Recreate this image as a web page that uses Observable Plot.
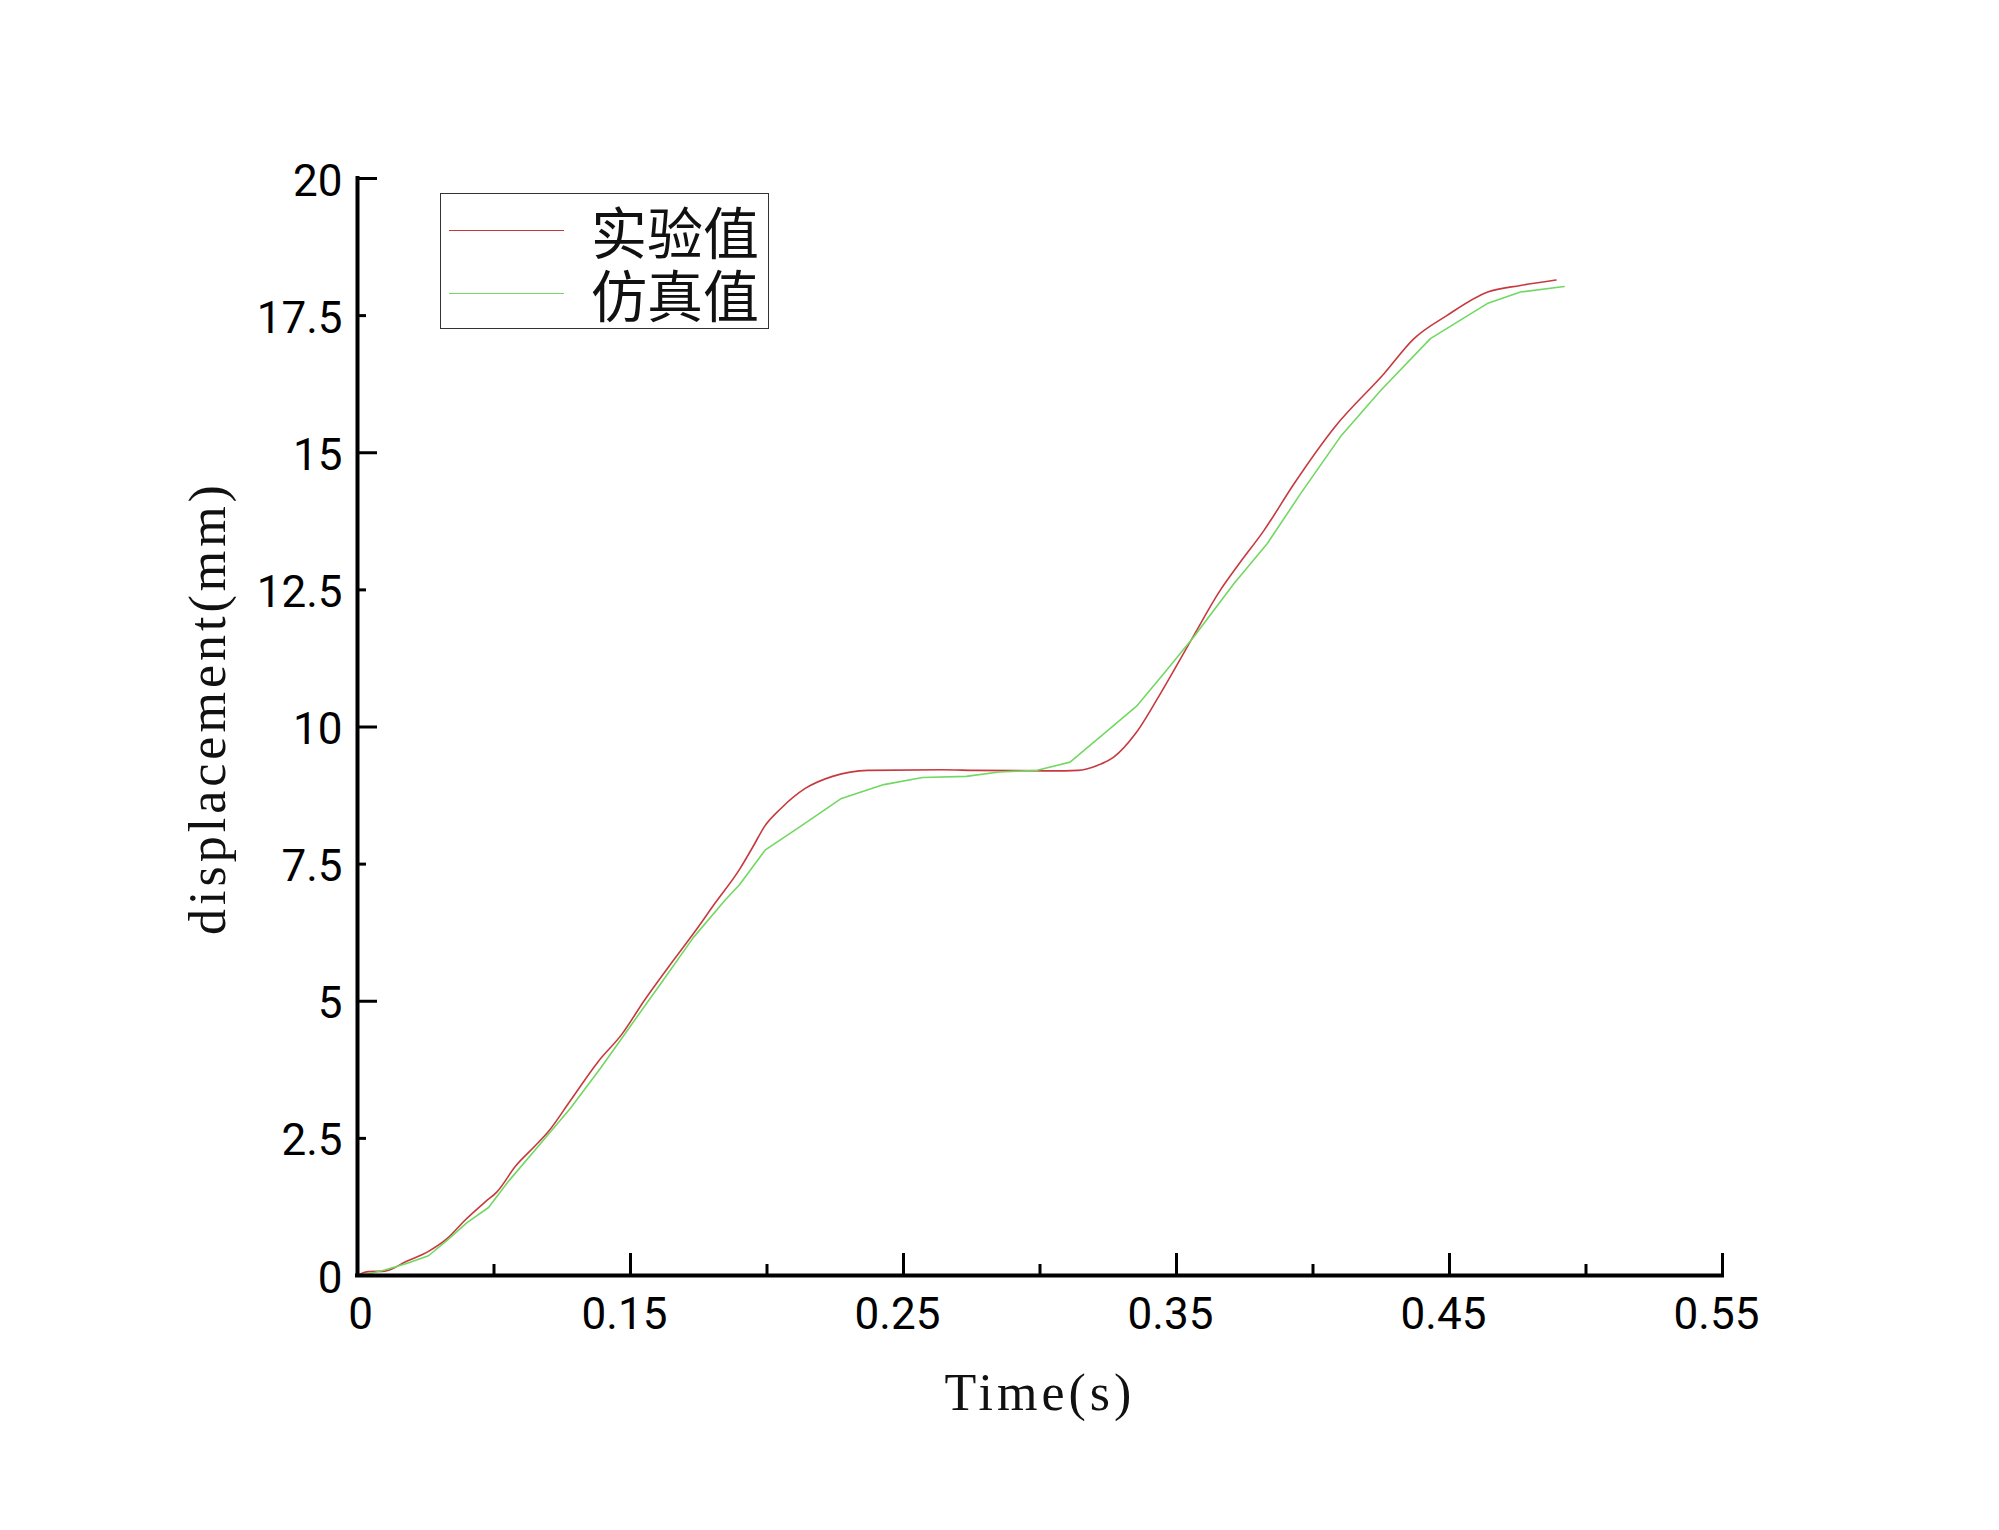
<!DOCTYPE html>
<html><head><meta charset="utf-8">
<script src="https://cdn.jsdelivr.net/npm/d3@7"></script>
<script src="https://cdn.jsdelivr.net/npm/@observablehq/plot@0.6"></script>
<style>
body{margin:0;background:#fff;}
#wrap{position:relative;width:1999px;height:1530px;background:#fff;}
#legend{position:absolute;left:440px;top:193px;width:327px;height:134px;border:1.5px solid #333;background:#fff;}
.lg-line{position:absolute;left:8px;width:115px;height:0;border-top:1.6px solid;}
.lg-text{position:absolute;left:150px;font-family:"Noto Sans CJK SC";font-size:56px;line-height:58px;height:58px;white-space:nowrap;color:#111;}
</style></head>
<body><div id="wrap"><div id="chart"></div><div id="legend"></div></div>
<script>
// Series names
const seriesNames = ["实验值", "仿真值"];
const seriesColors = ["#c63a3f", "#72d862"];

// 实验值 (experimental)
const timeExp = [0.050,0.054,0.060,0.068,0.076,0.083,0.089,0.097,0.101,0.108,0.115,0.120,0.128,0.138,0.147,0.155,0.164,0.173,0.181,0.190,0.195,0.199,0.205,0.214,0.224,0.237,0.264,0.276,0.304,0.314,0.321,0.327,0.335,0.344,0.356,0.366,0.373,0.382,0.393,0.408,0.426,0.437,0.449,0.464,0.476,0.489];
const dispExp = [0,0.07,0.08,0.26,0.44,0.68,0.99,1.35,1.52,2.00,2.36,2.63,3.19,3.89,4.41,5.01,5.63,6.23,6.79,7.41,7.83,8.18,8.51,8.88,9.10,9.21,9.22,9.21,9.20,9.21,9.30,9.45,9.88,10.60,11.64,12.49,12.98,13.58,14.43,15.47,16.44,17.08,17.50,17.93,18.05,18.15];

// 仿真值 (simulation)
const timeSim = [0.050,0.055,0.060,0.068,0.076,0.083,0.090,0.098,0.1055,0.118,0.128,0.139,0.150,0.1615,0.173,0.1846,0.190,0.1994,0.212,0.227,0.2428,0.257,0.273,0.285,0.299,0.311,0.324,0.3356,0.3453,0.3563,0.371,0.3832,0.3954,0.410,0.4247,0.443,0.4638,0.476,0.492];
const dispSim = [0,0.04,0.10,0.22,0.36,0.65,0.96,1.24,1.73,2.46,3.05,3.78,4.55,5.35,6.16,6.84,7.13,7.76,8.18,8.69,8.95,9.08,9.10,9.18,9.21,9.36,9.90,10.39,10.97,11.64,12.61,13.34,14.25,15.29,16.13,17.08,17.72,17.93,18.03];

// Axis ticks
const xMajorTicks = [0.05,0.15,0.25,0.35,0.45,0.55];
const xTickLabels = ["0","0.15","0.25","0.35","0.45","0.55"];
const xMinorTicks = [0.10,0.20,0.30,0.40,0.50];
const yTicks = [0,2.5,5,7.5,10,12.5,15,17.5,20];
const yTickLabels = ["0","2.5","5","7.5","10","12.5","15","17.5","20"];
const yMajorTicks = [0,5,10,15,20];
const yMinorTicks = [2.5,7.5,12.5,17.5];
const xTitle = "Time(s)";
const yTitle = "displacement(mm)";

const expData = timeExp.map((t,i)=>({t, v: dispExp[i]}));
const simData = timeSim.map((t,i)=>({t, v: dispSim[i]}));
const xLabel = d => xTickLabels[xMajorTicks.indexOf(d)];

const plot = Plot.plot({
  width: 1999, height: 1530,
  marginLeft: 357, marginRight: 277, marginTop: 178, marginBottom: 255,
  style: {fontFamily: "Roboto", fontSize: "44px", color: "#000", background: "#fff"},
  x: {domain: [0.05, 0.55]},
  y: {domain: [0, 20]},
  marks: [
    Plot.line(expData, {x: "t", y: "v", stroke: seriesColors[0], strokeWidth: 1.6, curve: "monotone-x"}),
    Plot.line(simData, {x: "t", y: "v", stroke: seriesColors[1], strokeWidth: 1.6}),
    Plot.ruleY([0], {stroke: "#000", strokeWidth: 4, strokeLinecap: "square"}),
    Plot.ruleX([0.05], {stroke: "#000", strokeWidth: 4, strokeLinecap: "square"}),
    Plot.axisX({ticks: xMajorTicks.slice(1), tickSize: -22, tickFormat: () => "", strokeWidth: 3, label: null}),
    Plot.axisX({ticks: xMinorTicks, tickSize: -11, tickFormat: () => "", strokeWidth: 3, label: null}),
    Plot.axisX({ticks: xMajorTicks.slice(0, 1), tickSize: 0, tickPadding: 22, dx: 3, tickFormat: xLabel, label: null, fontSize: 44}),
    Plot.axisX({ticks: xMajorTicks.slice(1), tickSize: 0, tickPadding: 22, dx: -6, tickFormat: xLabel, label: null, fontSize: 44}),
    Plot.axisY({ticks: yMajorTicks, tickSize: -20, tickFormat: () => "", strokeWidth: 3, label: null}),
    Plot.axisY({ticks: yMinorTicks, tickSize: -9, tickFormat: () => "", strokeWidth: 3, label: null}),
    Plot.axisY({ticks: yTicks, tickSize: 0, tickPadding: 15, dy: 3, tickFormat: d => yTickLabels[yTicks.indexOf(d)], label: null, fontSize: 44}),
    Plot.text([xTitle], {frameAnchor: "bottom", textAnchor: "middle", dy: 134, fontFamily: "Liberation Serif", fontSize: 52, fill: "#111"}),
    Plot.text([yTitle], {frameAnchor: "left", textAnchor: "middle", dx: -149, dy: -19, rotate: -90, fontFamily: "Liberation Serif", fontSize: 52, fill: "#111"})
  ]
});
document.getElementById("chart").appendChild(plot);
d3.select(plot).selectAll("text").filter(function(){ return this.textContent === xTitle || this.textContent === yTitle; }).attr("letter-spacing", "4px");

const legend = document.getElementById("legend");
seriesNames.forEach((name, i) => {
  const top = 36 + i * 63;
  const ln = document.createElement("div");
  ln.className = "lg-line"; ln.style.top = top + "px"; ln.style.borderTopColor = seriesColors[i];
  legend.appendChild(ln);
  const tx = document.createElement("div");
  tx.className = "lg-text"; tx.style.top = (top - 29) + "px"; tx.textContent = name;
  legend.appendChild(tx);
});
</script>
</body></html>
